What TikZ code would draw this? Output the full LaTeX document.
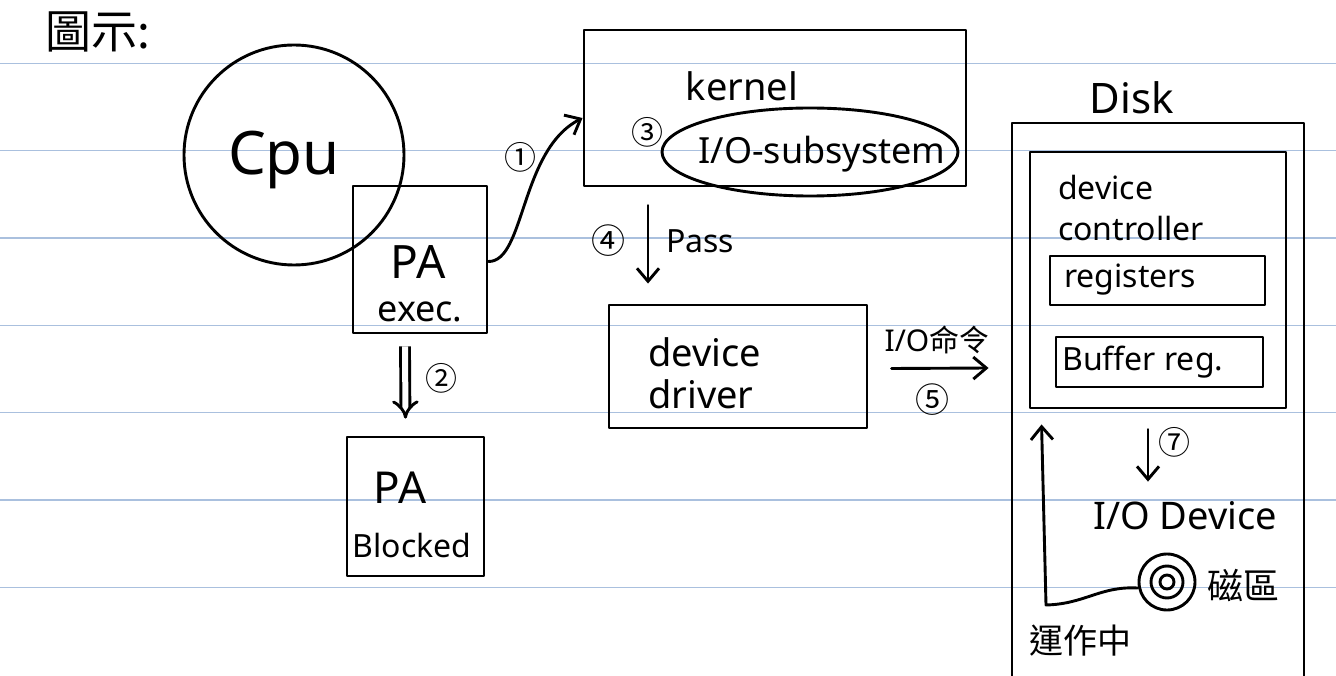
\documentclass[tikz,border=0pt]{standalone}
\usepackage{fontspec}
\setmainfont{Noto Sans}
\newfontfamily\cjk{Noto Sans CJK TC}
\usetikzlibrary{arrows.meta,calc,shapes.geometric}
\definecolor{rulecol}{RGB}{170,192,222}
\tikzset{
  ink/.style={line width=2.9pt, draw=black, line cap=round, line join=round},
  box/.style={ink, rectangle, inner sep=0pt},
  hand/.style={font=\fontsize{#1}{#1}\selectfont, inner sep=0pt},
  arr/.style={ink, -{Straight Barb[length=13pt,width=22pt]}},
}
\begin{document}
\begin{tikzpicture}[x=1pt,y=-1pt]
\useasboundingbox (0,0) rectangle (1336,676);
\fill[white] (0,0) rectangle (1336,676);
\foreach \y in {63.5,150.8,238.1,325.4,412.7,500,587.3}
  \draw[rulecol, line width=1.3pt] (0,\y) -- (1336,\y);

% title
\node[hand=46] (title) at (98,32) {\cjk 圖示:};

% CPU
\node[ink, circle, minimum size=220pt, inner sep=0pt] (cpu) at (294,155) {};
\node[hand=60] (cputxt) at (284,160) {Cpu};

% PA exec
\node[box, minimum width=134pt, minimum height=147pt] (pa) at (420,259.5) {};
\node[hand=46] (patxt) at (418,262) {PA};
\node[hand=36] (exec) at (420,312) {exec.};

% PA blocked
\node[box, minimum width=137pt, minimum height=139pt] (blk) at (415.5,506.5) {};
\node[hand=44] (pa2) at (400,488) {PA};
\node[hand=32] (blocked) at (412,545) {Blocked};

% kernel
\node[box, minimum width=382pt, minimum height=156pt] (kernel) at (775,108) {};
\node[hand=38] (kerneltxt) at (742,86) {kernel};
\node[hand=32] (c3) at (647,132) {\cjk ③};
\node[ink, ellipse, minimum width=296pt, minimum height=88pt, inner sep=0pt] (iosub) at (810,152) {};
\node[hand=36] (iosubtxt) at (822,154) {I/O-subsystem};

% device driver
\node[box, minimum width=258pt, minimum height=123pt] (driver) at (738,366.5) {};
\node[hand=38, anchor=west] (dev1) at (648,352) {device};
\node[hand=38, anchor=west] (drv1) at (648,394) {driver};

% Disk
\coordinate (diskTL) at (1012,123);
\coordinate (diskTR) at (1304,123);
\draw[ink] (1012,680) -- (diskTL) -- (diskTR) -- (1304,680);
\node[hand=42] (disktxt) at (1132,98) {Disk};

% controller
\node[box, minimum width=256pt, minimum height=256pt] (ctrl) at (1158,280) {};
\node[hand=32, anchor=west] (dev2) at (1058,188) {device};
\node[hand=32, anchor=west] (ctrltxt) at (1058,229) {controller};
\node[box, minimum width=215pt, minimum height=49pt] (regs) at (1157.5,280.5) {};
\node[hand=32, anchor=west] (regtxt) at (1064,280) {registers};
\node[box, minimum width=207pt, minimum height=50pt] (buf) at (1159.5,362) {};
\node[hand=32, anchor=west] (buftxt) at (1062,362) {Buffer reg.};

% I/O device
\node[hand=38] (iodev) at (1185,516) {I/O Device};
\node[ink, circle, minimum size=56pt, inner sep=0pt] (platter) at (1167,582) {};
\node[ink, circle, minimum size=32pt, inner sep=0pt] (platter2) at (1167,582) {};
\node[ink, circle, minimum size=14pt, inner sep=0pt] (platter3) at (1167,582) {};
\node[hand=36] (sector) at (1243,585) {\cjk 磁區};
\node[hand=34] (running) at (1080,641) {\cjk 運作中};

% connectors
\draw[arr] ($(pa.east)+(0,2)$) .. controls (525,262) and (520,150) .. ($(kernel.west)+(0,10)$);
\node[hand=32] (c1) at (520,157) {\cjk ①};

\draw[ink, double, double distance=6pt, -{Implies}, line cap=butt] ($(pa.south)+(-15,12)$) -- ($(blk.north)+(-10,-17)$);
\node[hand=32] (c2) at (441,378) {\cjk ②};

\draw[arr] ($(kernel.south)+(-127,18)$) -- ($(driver.north)+(-90,-20)$);
\node[hand=34] (c4) at (608,241) {\cjk ④};
\node[hand=32, anchor=west] (pass) at (666,241) {Pass};

\draw[arr] ($(driver.east)+(23,2)$) -- ($(ctrl.west)+(-40,88)$);
\node[hand=30] (iocmd) at (937,340) {I/O{\cjk 命令}};
\node[hand=34] (c5) at (932,400) {\cjk ⑤};

\draw[arr] ($(ctrl.south)+(-10,20)$) -- ($(iodev.north)+(-37,-20)$);
\node[hand=32] (c7) at (1174,442) {\cjk ⑦};

\draw[arr] ($(platter.west)+(0,6)$) .. controls (1100,586) and (1085,604) .. (1046,605) -- ($(ctrl.south west)+(13,15)$);
\end{tikzpicture}
\end{document}
